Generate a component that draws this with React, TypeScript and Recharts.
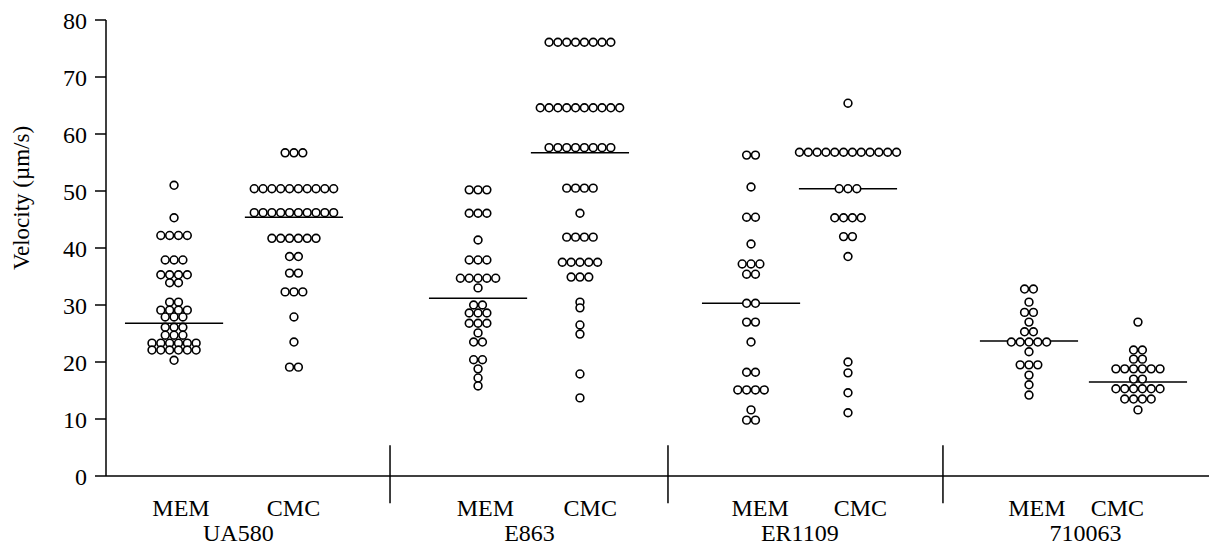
import React from 'react';
import { ScatterChart, Scatter, XAxis, YAxis, ReferenceLine } from 'recharts';

// ---- categories ----
const groups = ['UA580', 'E863', 'ER1109', '710063'];
const media = ['MEM', 'CMC'];

// ---- column layout (x units, 0..100) ----
const columnCenters = [6.17, 17.04, 33.73, 42.97, 58.48, 67.27, 83.68, 93.56];
const labelCenters = [6.8, 17.0, 34.4, 43.9, 59.3, 68.4, 84.4, 91.7];
const groupCenters = [12.0, 38.4, 62.9, 88.8];
const separators = [25.75, 50.95, 75.88];

// ---- velocity levels (µm/s) and number of cells at each level ----
const ua580MemLevels = [51.0, 45.3, 42.2, 37.9, 35.3, 33.9, 30.5, 29.1, 27.9, 26.1, 24.7, 23.3, 22.1, 20.3];
const ua580MemCounts = [1, 1, 4, 3, 4, 2, 2, 4, 3, 3, 3, 6, 6, 1];
const ua580CmcLevels = [56.7, 50.4, 46.2, 41.7, 38.5, 35.6, 32.3, 27.9, 23.5, 19.1];
const ua580CmcCounts = [3, 10, 10, 6, 2, 2, 3, 1, 1, 2];
const e863MemLevels = [50.2, 46.1, 41.4, 37.9, 34.7, 33.0, 30.0, 28.6, 26.8, 25.1, 23.5, 20.4, 18.8, 17.2, 15.8];
const e863MemCounts = [3, 3, 1, 3, 5, 1, 2, 3, 3, 1, 2, 2, 1, 1, 1];
const e863CmcLevels = [76.1, 64.6, 57.6, 50.5, 46.1, 41.9, 37.5, 34.9, 30.5, 29.5, 26.5, 24.9, 17.9, 13.7];
const e863CmcCounts = [8, 10, 8, 4, 1, 4, 5, 3, 1, 1, 1, 1, 1, 1];
const er1109MemLevels = [56.3, 50.7, 45.4, 40.7, 37.2, 35.4, 30.3, 27.0, 23.5, 18.2, 15.1, 11.6, 9.8];
const er1109MemCounts = [2, 1, 2, 1, 3, 2, 2, 2, 1, 2, 4, 1, 2];
const er1109CmcLevels = [65.4, 56.8, 50.4, 45.3, 42.0, 38.5, 20.0, 18.1, 14.6, 11.1];
const er1109CmcCounts = [1, 12, 3, 4, 2, 1, 1, 1, 1, 1];
const s710063MemLevels = [32.8, 30.5, 28.7, 27.0, 25.3, 23.5, 21.8, 19.5, 17.7, 16.0, 14.2];
const s710063MemCounts = [2, 1, 2, 1, 2, 5, 1, 3, 1, 1, 1];
const s710063CmcLevels = [27.0, 22.1, 20.5, 18.8, 17.0, 15.3, 13.5, 11.6];
const s710063CmcCounts = [1, 2, 2, 6, 2, 6, 4, 1];

// ---- group means (horizontal bars) ----
const means = [26.8, 45.4, 31.2, 56.7, 30.3, 50.4, 23.7, 16.5];

const yTicks = [0, 10, 20, 30, 40, 50, 60, 70, 80];

const columns = [
  [ua580MemLevels, ua580MemCounts],
  [ua580CmcLevels, ua580CmcCounts],
  [e863MemLevels, e863MemCounts],
  [e863CmcLevels, e863CmcCounts],
  [er1109MemLevels, er1109MemCounts],
  [er1109CmcLevels, er1109CmcCounts],
  [s710063MemLevels, s710063MemCounts],
  [s710063CmcLevels, s710063CmcCounts],
];

const DOT_STEP = 0.8; // horizontal spacing of dots in a row (x units)
const MEAN_HALF = 4.45;

const points = columns.flatMap(([levels, counts], c) =>
  levels.flatMap((v, j) => {
    const n = counts[j];
    return Array.from({ length: n }, (_, i) => ({
      x: columnCenters[c] + (i - (n - 1) / 2) * DOT_STEP,
      y: v,
    }));
  })
);

const xTicks = [...labelCenters, ...groupCenters];

const FONT = '"Liberation Serif", "Times New Roman", serif';

const Dot = (props: any) => {
  const { cx, cy } = props;
  if (cx == null || cy == null) return null;
  return <circle cx={cx} cy={cy} r={3.9} fill="#fff" stroke="#000" strokeWidth={1.6} />;
};

const XTick = (props: any) => {
  const { x, payload } = props;
  const v = payload.value;
  const li = labelCenters.indexOf(v);
  if (li >= 0) {
    return (
      <text x={x} y={516} textAnchor="middle" fontFamily={FONT} fontSize={24} fill="#000">
        {media[li % 2]}
      </text>
    );
  }
  const gi = groupCenters.indexOf(v);
  return (
    <text x={x} y={541} textAnchor="middle" fontFamily={FONT} fontSize={24} fill="#000">
      {groups[gi]}
    </text>
  );
};

const YLabel = () => (
  <text
    x={0}
    y={0}
    transform="translate(29 198) rotate(-90)"
    textAnchor="middle"
    fontFamily={FONT}
    fontSize={23}
    fill="#000"
  >
    Velocity (µm/s)
  </text>
);

export default function App() {
  return (
    <div style={{ position: 'absolute', left: 0, top: 0, background: '#fff' }}>
      <ScatterChart width={1209} height={548} margin={{ top: 20, right: 0, bottom: 0, left: 0 }}>
        <XAxis
          type="number"
          dataKey="x"
          domain={[0, 100]}
          ticks={xTicks}
          tick={<XTick />}
          tickLine={false}
          axisLine={{ stroke: '#000', strokeWidth: 1.5 }}
          height={72}
          interval={0}
          allowDataOverflow
        />
        <YAxis
          type="number"
          dataKey="y"
          domain={[0, 80]}
          ticks={yTicks}
          width={106}
          tickSize={11}
          tickMargin={8}
          interval={0}
          axisLine={{ stroke: '#000', strokeWidth: 1.5 }}
          tickLine={{ stroke: '#000', strokeWidth: 1.5 }}
          tick={{ fontFamily: FONT, fontSize: 24, fill: '#000' }}
          label={{ content: <YLabel /> }}
          allowDataOverflow
        />
        {separators.map((s, i) => (
          <ReferenceLine
            key={'sep' + i}
            segment={[{ x: s, y: 5.4 }, { x: s, y: -4.8 }]}
            stroke="#000"
            strokeWidth={1.5}
            ifOverflow="visible"
          />
        ))}
        {means.map((m, i) => (
          <ReferenceLine
            key={'mean' + i}
            segment={[{ x: columnCenters[i] - MEAN_HALF, y: m }, { x: columnCenters[i] + MEAN_HALF, y: m }]}
            stroke="#000"
            strokeWidth={1.5}
            ifOverflow="visible"
          />
        ))}
        <Scatter data={points} shape={<Dot />} isAnimationActive={false} />
      </ScatterChart>
    </div>
  );
}
